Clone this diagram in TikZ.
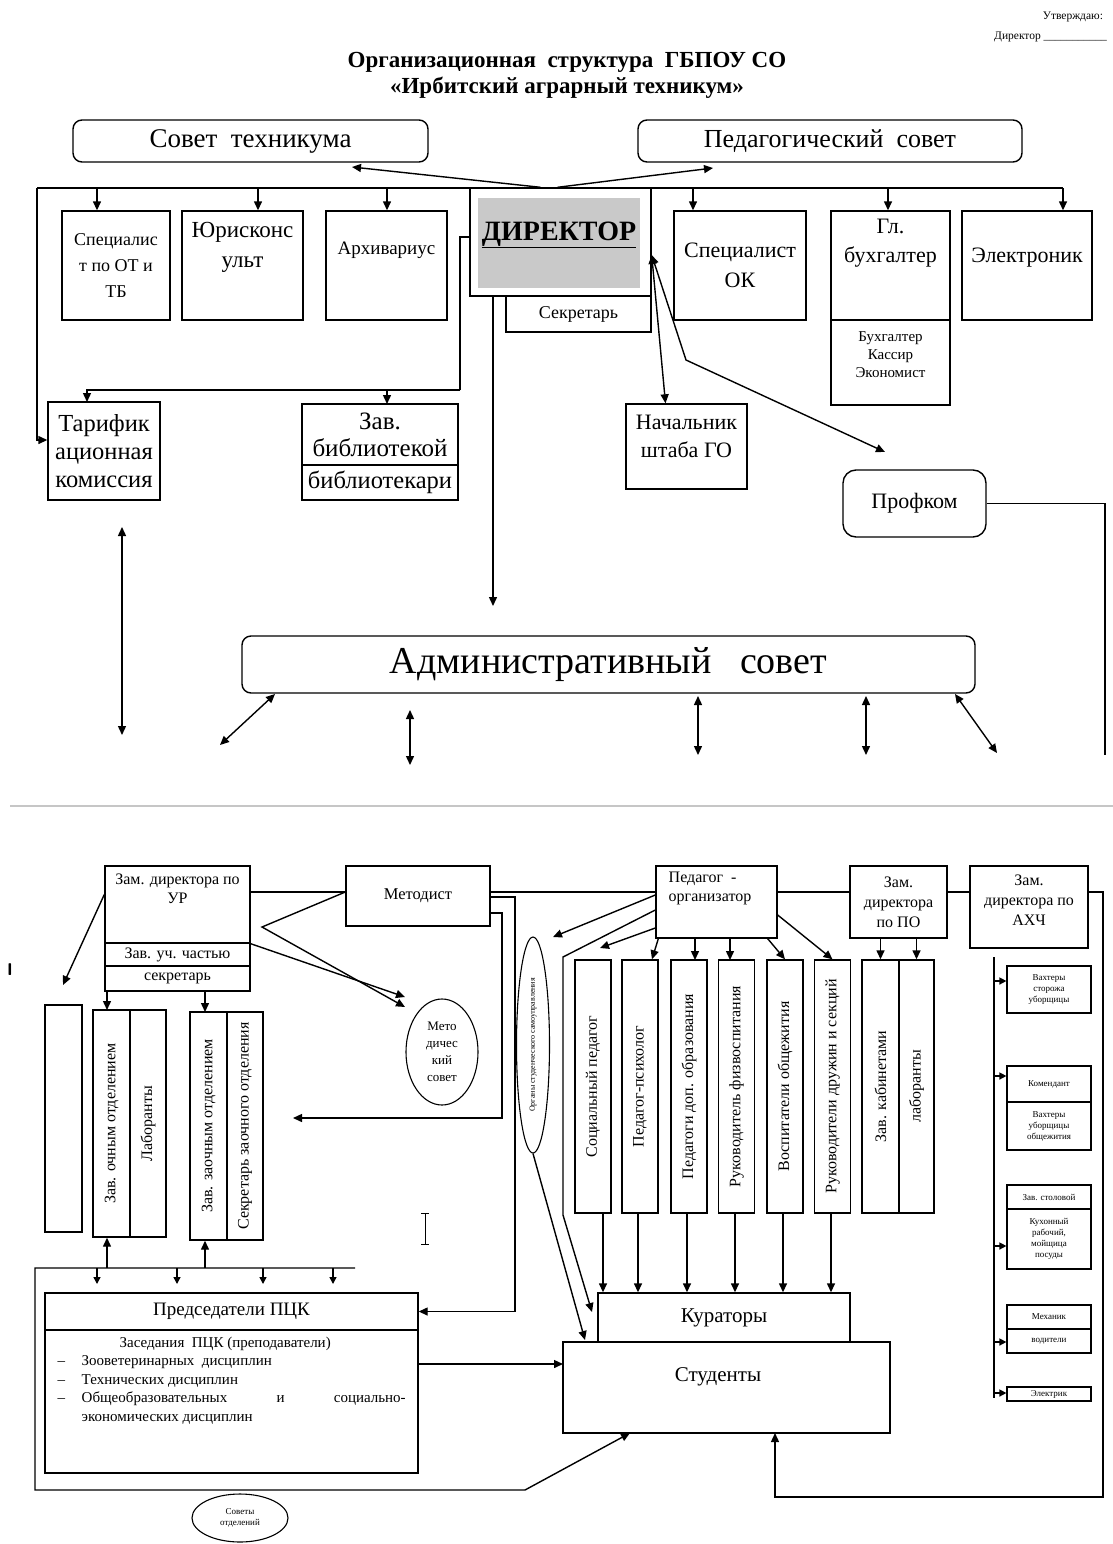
\documentclass[tikz,border=0pt]{standalone}
\usepackage{fontspec}
\setmainfont{Liberation Serif}
\usetikzlibrary{positioning,shapes.geometric,arrows.meta}
\newcommand{\setfs}[2]{\fontsize{#1}{#2}\selectfont}

\begin{document}
\begin{tikzpicture}[x=1pt, y=-1pt, line width=1.4pt,
  box/.style={draw, rectangle, inner sep=0pt, align=center},
  rbox/.style={box, rounded corners=9pt},
  oval/.style={draw, ellipse, inner sep=0pt, align=center, line width=1.1pt},
  arr/.style={-{Triangle[length=9pt,width=8pt]}},
  darr/.style={{Triangle[length=9pt,width=8pt]}-{Triangle[length=9pt,width=8pt]}},
  sarr/.style={-{Triangle[length=7pt,width=7pt]}},
  vtext/.style={rotate=90, font=\setfs{16}{18}},
  small/.style={font=\setfs{9}{11}}]
\fill [white] (0,0) rectangle (1113,1544);
\useasboundingbox (0,0) rectangle (1113,1544);

\node [anchor=east, font=\setfs{11.5}{13}] (approve) at (1107,17) {Утверждаю:};
\node [anchor=east, font=\setfs{11.5}{13}] (approvedir) at (1111,37) {Директор \_\_\_\_\_\_\_\_\_\_\_};
\node [align=center, font=\setfs{23}{26}\bfseries] (title) at (567,75) {Организационная\ \ структура\ \ ГБПОУ СО\\«Ирбитский аграрный техникум»};

\node [rbox, minimum width=355, minimum height=42, font=\setfs{27}{30}] (sovet) at (250.5,141) {Совет\ \ техникума};
\node [rbox, minimum width=384, minimum height=42, font=\setfs{26}{30}] (pedsovet) at (830,141) {Педагогический\ \ совет};

\node [box, minimum width=181, minimum height=108] (dir) at (560.5,242) {};
\node [fill=gray!42, inner sep=0pt, minimum width=162, minimum height=90] (dirfill) at (559,243) {};
\node [font=\setfs{28}{30}\bfseries] (dirtxt) at (559,235) {\underline{ДИРЕКТОР}};
\node [box, minimum width=145, minimum height=36, font=\setfs{18}{22}] (sekr) at (578.5,314) {Секретарь};

\node [box, minimum width=108, minimum height=109, font=\setfs{18}{26}] (otb) at (116,265.5) {Специалис\\т по ОТ и\\ТБ};
\node [box, minimum width=121, minimum height=109] (jur) at (242.5,265.5) {};
\node [align=center, font=\setfs{23}{30}] (jurtxt) at (242.5,247) {Юрисконс\\ульт};
\node [box, minimum width=121, minimum height=109] (arch) at (386.5,265.5) {};
\node [font=\setfs{19}{24}] (archtxt) at (386.5,250) {Архивариус};
\node [box, minimum width=132, minimum height=109, font=\setfs{22}{30}] (ok) at (740,265.5) {Специалист\\ОК};
\node [box, minimum width=119, minimum height=109] (buh) at (890.5,265.5) {};
\node [align=center, font=\setfs{22}{29}] (buhtxt) at (890.5,243) {Гл.\\бухгалтер};
\node [box, minimum width=119, minimum height=85] (buhst) at (890.5,362.5) {};
\node [align=center, font=\setfs{15}{18}] (buhsttxt) at (890.5,355) {Бухгалтер\\Кассир\\Экономист};
\node [box, minimum width=130, minimum height=109] (el) at (1027,265.5) {};
\node [font=\setfs{22}{28}] (eltxt) at (1027,258) {Электроник};

\node [box, minimum width=112, minimum height=98, font=\setfs{24.5}{28}] (tarif) at (104,451) {Тарифик\\ационная\\комиссия};
\node [box, minimum width=156, minimum height=61, font=\setfs{25}{27}] (lib) at (380,434.5) {Зав.\\библиотекой};
\node [box, minimum width=156, minimum height=35, font=\setfs{24.5}{27}] (libst) at (380,482.5) {библиотекари};
\node [box, minimum width=121, minimum height=85] (go) at (686.5,446.5) {};
\node [align=center, font=\setfs{22}{28}] (gotxt) at (686.5,436) {Начальник\\штаба ГО};
\node [rbox, rounded corners=13pt, minimum width=143, minimum height=67, font=\setfs{22}{28}] (prof) at (914.5,503.5) {Профком};

\node [rbox, minimum width=733, minimum height=57, font=\setfs{38}{40}] (adm) at (608.5,664.5) {Административный\ \ \ совет};

\coordinate (busL) at (37,188);
\coordinate (busR) at (1063,188);
\draw (busL) -- (busR);
\draw [arr] (busL -| 97,0) -- (otb.north -| 97,0);
\draw [arr] (busL -| 258,0) -- (jur.north -| 258,0);
\draw [arr] (busL -| 387,0) -- (arch.north -| 387,0);
\draw [arr] (busL -| 693,0) -- (ok.north -| 693,0);
\draw [arr] (busL -| 888,0) -- (buh.north -| 888,0);
\draw [arr] (busR) -- (el.north -| busR);
\draw [arr] (busL) |- ([yshift=11]tarif.west);

\coordinate (sovetin) at (352,167);
\coordinate (pedin) at (713,168);
\draw [arr] ([xshift=-20]dir.north) -- (sovetin);
\draw [arr] ([xshift=-3]dir.north) -- (pedin);

\coordinate (dirbus) at (460,390);
\coordinate (tarifin) at (87,402);
\coordinate (libin) at (387,404);
\draw ([yshift=5]dir.west) -| (dirbus);
\draw [arr] (dirbus) -| (tarifin);
\draw [arr] (dirbus) -| (libin);

\coordinate (admin) at (493,606);
\draw [arr] (dir.south -| admin) -- (admin);
\draw [darr] ([yshift=-13]dir.east) -- ([xshift=-21]go.north);
\coordinate (profbend) at (686,360);
\coordinate (profin) at (885,452);
\draw [darr] ([yshift=-13]dir.east) -- (profbend) -- (profin);
\coordinate (profend) at (1105,755);
\draw (prof.east) -| (profend);

\coordinate (tarifup) at (122,527);
\coordinate (tarifdn) at (122,735);
\draw [darr] (tarifup) -- (tarifdn);

\coordinate (admA) at (275,694);
\coordinate (admAend) at (220,745);
\coordinate (admB) at (410,710);
\coordinate (admBend) at (410,765);
\coordinate (admC) at (698,696);
\coordinate (admCend) at (698,755);
\coordinate (admD) at (866,696);
\coordinate (admDend) at (866,755);
\coordinate (admE) at (955,694);
\coordinate (admEend) at (997,753);
\draw [darr] (admA) -- (admAend);
\draw [darr] (admB) -- (admBend);
\draw [darr] (admC) -- (admCend);
\draw [darr] (admD) -- (admDend);
\draw [darr] (admE) -- (admEend);

\coordinate (sepL) at (10,806);
\coordinate (sepR) at (1113,806);
\draw [gray!45, line width=1.5pt] (sepL) -- (sepR);


\node [box, minimum width=145, minimum height=77] (zur) at (177.5,904.5) {};
\node [align=center, font=\setfs{16}{19}] (zurtxt) at (177.5,889) {Зам. директора по\\УР};
\node [box, minimum width=145, minimum height=23, font=\setfs{16}{19}] (zurch) at (177.5,954.5) {Зав. уч. частью};
\node [box, minimum width=145, minimum height=25, font=\setfs{16}{19}] (zursec) at (177.5,978.5) {секретарь};
\node [box, minimum width=144, minimum height=60, font=\setfs{16.5}{19}] (met) at (418,896) {Методист};
\node [box, minimum width=121, minimum height=72] (pedorg) at (716.5,902) {};
\node [anchor=north west, inner sep=0pt, align=left, font=\setfs{16}{19}] (pedorgtxt) at (668,871) {Педагог\ \ -\\организатор};
\node [box, minimum width=97, minimum height=72, font=\setfs{16}{20}] (zpo) at (898.5,902) {Зам.\\директора\\по ПО};
\node [box, minimum width=118, minimum height=82] (zahch) at (1029,907) {};
\node [align=center, font=\setfs{16}{20}] (zahchtxt) at (1029,900) {Зам.\\директора по\\АХЧ};

\coordinate (lbus) at (0,892);
\coordinate (rtop) at (1103,892);
\coordinate (rbot) at (1103,1497);
\coordinate (studup) at (775,1433);
\draw (zur.east |- lbus) -- (met.west |- lbus);
\draw (met.east |- lbus) -- (pedorg.west |- lbus);
\draw (pedorg.east |- lbus) -- (zpo.west |- lbus);
\draw (zpo.east |- lbus) -- (zahch.west |- lbus);
\draw [arr] (zahch.east |- lbus) -- (rtop) -- (rbot) -| (studup);

\node [font=\setfs{17}{18}\sffamily\bfseries] (mark) at (10,970) {I};
\draw [line width=0.9pt] (421,1213) -- (429,1213) (425,1213) -- (425,1244) (421,1244) -- (429,1244);

\node [box, minimum width=37, minimum height=227] (empt) at (63.5,1118.5) {};
\node [box, minimum width=37, minimum height=227, label={[vtext]center:Зав. очным отделением}] (ochn) at (111.5,1123.5) {};
\node [box, minimum width=36, minimum height=227, label={[vtext]center:Лаборанты}] (lab) at (148,1123.5) {};
\node [box, minimum width=37, minimum height=228, label={[vtext]center:Зав. заочным отделением}] (zaoch) at (208.5,1126) {};
\node [box, minimum width=36, minimum height=228, label={[vtext]center:Секретарь заочного отделения}] (zsec) at (245,1126) {};

\coordinate (emptyin) at (63,985);
\coordinate (ochnin) at (107,1010);
\coordinate (zaochin) at (205,1012);
\draw [arr] ([yshift=10]zur.west) -- (emptyin);
\draw [arr] (zursec.south -| ochnin) -- (ochnin);
\draw [arr] (zursec.south -| zaochin) -- (zaochin);

\node [oval, minimum width=72, minimum height=106, font=\setfs{13}{17}] (metsov) at (442,1052) {Мето\\дичес\\кий\\совет};
\coordinate (metbend) at (262,927);
\coordinate (metsovin) at (405,1007);
\coordinate (metsovin2) at (405,997);
\draw [arr] (met.west |- lbus) -- (metbend) -- (metsovin);
\draw [arr] (zur.south east) -- (metsovin2);

\node [oval, minimum width=33, minimum height=216, label={[rotate=90, font=\setfs{8}{9}]center:Органы студенческого самоуправления}] (orgs) at (533,1045) {};

\node [box, minimum width=36, minimum height=253, label={[vtext]center:Социальный педагог}] (soc) at (593,1086.5) {};
\node [box, minimum width=36, minimum height=253, label={[vtext]center:Педагог-психолог}] (psy) at (640,1086.5) {};
\node [box, minimum width=36, minimum height=253, label={[vtext]center:Педагоги доп. образования}] (dop) at (689,1086.5) {};
\node [box, minimum width=36, minimum height=253, label={[vtext]center:Руководитель физвоспитания}] (fiz) at (736.5,1086.5) {};
\node [box, minimum width=36, minimum height=253, label={[vtext]center:Воспитатели общежития}] (vos) at (785,1086.5) {};
\node [box, minimum width=36, minimum height=253, label={[vtext]center:Руководители дружин и секций}] (ruk) at (832.5,1086.5) {};
\node [box, minimum width=37, minimum height=253, label={[vtext]center:Зав. кабинетами}] (zkab) at (880.5,1086.5) {};
\node [box, minimum width=35, minimum height=253, label={[vtext]center:лаборанты}] (labk) at (916.5,1086.5) {};

\coordinate (orgsin) at (553,937);
\coordinate (socin) at (600,948);
\coordinate (pedbend) at (563,957);
\coordinate (pedbend2) at (563,1215);
\coordinate (kurin) at (592,1312);
\coordinate (studin) at (585,1340);
\coordinate (dopin) at (695,960);
\coordinate (fizin) at (730,960);
\draw [arr] ([yshift=7]pedorg.west) -- (orgsin);
\draw [arr] ([yshift=-8]pedorg.west) -- (pedbend) -- (pedbend2) -- (kurin);
\draw [arr] ([yshift=-26]pedorg.west) -- (socin);
\draw [arr] (orgs.south) -- (studin);
\draw [arr] ([xshift=3]pedorg.south west) -- ([xshift=12]psy.north);
\draw [arr] (pedorg.south -| dopin) -- (dopin);
\draw [arr] (pedorg.south -| fizin) -- (fizin);
\draw [arr] ([xshift=-10]pedorg.south east) -- (vos.north);
\draw [arr] ([yshift=-13]pedorg.east) -- (ruk.north);
\draw [arr] (zpo.south -| zkab.north) -- (zkab.north);
\draw [arr] (zpo.south -| labk.north) -- (labk.north);

\node [box, minimum width=252, minimum height=49, font=\setfs{21}{24}] (kur) at (724,1317.5) {Кураторы};
\node [box, minimum width=327, minimum height=91] (stud) at (726.5,1387.5) {};
\node [font=\setfs{21}{24}] (studtxt) at (718,1377) {Студенты};

\draw [arr] (soc.south -| 603,0) -- (kur.north -| 603,0);
\draw [arr] (psy.south -| 638,0) -- (kur.north -| 638,0);
\draw [arr] (dop.south -| 687,0) -- (kur.north -| 687,0);
\draw [arr] (fiz.south -| 735,0) -- (kur.north -| 735,0);
\draw [arr] (vos.south -| 783,0) -- (kur.north -| 783,0);
\draw [arr] (ruk.south -| 831,0) -- (kur.north -| 831,0);

\node [box, minimum width=373, minimum height=37, font=\setfs{19}{22}] (pckh) at (231.5,1311.5) {Председатели ПЦК};
\node [box, minimum width=373, minimum height=143] (pckb) at (231.5,1401.5) {};
\node [anchor=north west, inner sep=0pt, align=left, font=\setfs{15}{18.5}] (pcktxt) at (57,1336) {\makebox[335pt][c]{Заседания\ \ ПЦК (преподаватели)}\\
\makebox[24pt][l]{--}Зооветеринарных\ \ дисциплин\\
\makebox[24pt][l]{--}Технических дисциплин\\
\makebox[24pt][l]{--}\makebox[324pt][l]{Общеобразовательных\hfill и\hfill социально-}\\
\hspace*{24pt}экономических дисциплин};

\coordinate (metR) at (515,897);
\coordinate (metRin) at (502,913);
\coordinate (metout) at (293,1118);
\draw [arr] (met.east |- metR) -- (metR) |- (pckh.east);
\draw [arr] (met.east |- metRin) -- (metRin) |- (metout);

\coordinate (pcktopL) at (35,1268);
\coordinate (pcktopR) at (355,1268);
\coordinate (pckbotL) at (35,1490);
\coordinate (pckbotR) at (525,1490);
\coordinate (studinb) at (630,1433);
\coordinate (studinl) at (563,1364);
\draw [arr] (pcktopR) -- (pcktopL) -- (pckbotL) -- (pckbotR) -- (studinb);
\draw [sarr] (pcktopL -| 97,0) -- ++(0,16);
\draw [sarr] (pcktopL -| 177,0) -- ++(0,16);
\draw [sarr] (pcktopL -| 263,0) -- ++(0,16);
\draw [sarr] (pcktopL -| 333,0) -- ++(0,16);
\draw [arr] (pcktopL -| ochnin) -- (ochn.south -| ochnin);
\draw [arr] (pcktopL -| zaochin) -- (zaoch.south -| zaochin);
\draw [arr] (pckb.east |- studinl) -- (studinl);

\node [oval, minimum width=96, minimum height=48, font=\setfs{9}{11}] (sovotd) at (240,1518) {Советы\\отделений};

\coordinate (axtop) at (994,957);
\coordinate (axbot) at (994,1398);
\draw (axtop) -- (axbot);
\node [box, small, line width=1.2pt, minimum width=84, minimum height=47] (ax1) at (1049,989.5) {Вахтеры\\сторожа\\уборщицы};
\node [box, small, line width=1.2pt, minimum width=84, minimum height=36] (ax2a) at (1049,1084) {Комендант};
\node [box, small, line width=1.2pt, minimum width=84, minimum height=48] (ax2b) at (1049,1126) {Вахтеры\\уборщицы\\общежития};
\node [box, small, line width=1.2pt, minimum width=84, minimum height=24] (ax3a) at (1049,1197) {Зав. столовой};
\node [box, small, line width=1.2pt, minimum width=84, minimum height=60] (ax3b) at (1049,1239) {Кухонный\\рабочий,\\мойщица\\посуды};
\node [box, small, line width=1.2pt, minimum width=84, minimum height=24] (ax4a) at (1049,1317) {Механик};
\node [box, small, line width=1.2pt, minimum width=84, minimum height=24] (ax4b) at (1049,1341) {водители};
\node [box, small, line width=1.2pt, minimum width=84, minimum height=14] (ax5) at (1049,1394) {Электрик};
\draw [sarr] (axtop |- 0,981) -- (ax1.west |- 0,981);
\draw [sarr] (axtop |- 0,1076) -- (ax2a.west |- 0,1076);
\draw [sarr] (axtop |- 0,1246) -- (ax3b.west |- 0,1246);
\draw [sarr] (axtop |- 0,1342) -- (ax4b.west |- 0,1342);
\draw [sarr] (axtop |- 0,1393) -- (ax5.west |- 0,1393);

\end{tikzpicture}
\end{document}
